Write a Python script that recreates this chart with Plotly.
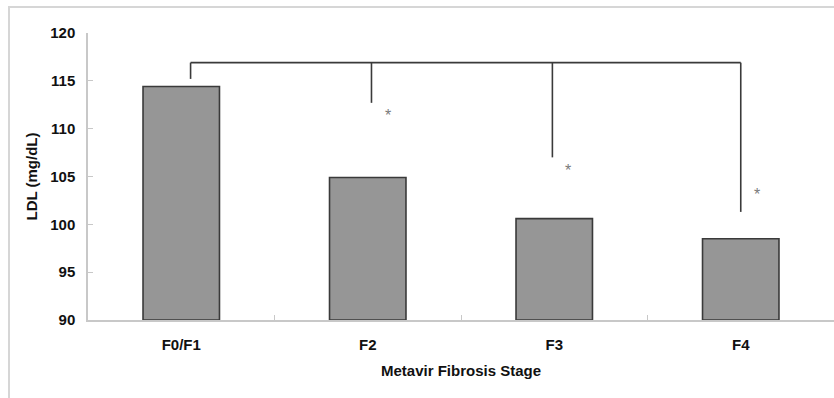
import plotly.graph_objects as go

# Mean LDL by Metavir fibrosis stage
stages = ["F0/F1", "F2", "F3", "F4"]
ldl_mean = [114.4, 104.9, 100.6, 98.5]

# Significance bracket: common top bar and drop ends for each stage
bracket_top = 116.9
bracket_x = [0.05, 1.02, 1.99, 3.0]
bracket_drop_end = [115.2, 112.7, 107.0, 101.3]

# Asterisks marking stages different from F0/F1
star_x = [1.107, 2.074, 3.087]
star_y = [111.6, 105.8, 103.3]

FONT = "Liberation Sans, Arial, sans-serif"
AXIS_GREY = "#c8c8c8"
LINE_DARK = "#3a3a3a"

fig = go.Figure()
fig.add_trace(go.Bar(
    x=stages,
    y=[v - 90 for v in ldl_mean],
    base=90,
    marker=dict(color="#969696", line=dict(color=LINE_DARK, width=1.6)),
    width=0.41,
    hoverinfo="skip",
))

shapes = []
# horizontal bar of the bracket
shapes.append(dict(type="line", xref="x", yref="y",
                   x0=bracket_x[0], x1=bracket_x[-1], y0=bracket_top, y1=bracket_top,
                   line=dict(color=LINE_DARK, width=1.6)))
for bx, by in zip(bracket_x, bracket_drop_end):
    shapes.append(dict(type="line", xref="x", yref="y",
                       x0=bx, x1=bx, y0=bracket_top, y1=by,
                       line=dict(color=LINE_DARK, width=1.6)))
# outer frame around the figure
shapes.append(dict(type="rect", xref="paper", yref="paper",
                   x0=-0.1059, x1=1.05, y0=-0.35, y1=1.0906,
                   line=dict(color="#d6d6d6", width=2), layer="below"))

annotations = []
for sx, sy in zip(star_x, star_y):
    annotations.append(dict(x=sx, y=sy, xref="x", yref="y", text="*",
                            showarrow=False, yshift=-2,
                            font=dict(family=FONT, size=16, color="#7a7a7a")))

fig.update_layout(
    width=834, height=398, autosize=False,
    margin=dict(l=88, r=0, t=33, b=78),
    paper_bgcolor="white", plot_bgcolor="white",
    showlegend=False,
    shapes=shapes,
    annotations=annotations,
    font=dict(family=FONT, color="#111111"),
)
fig.update_xaxes(
    type="category", range=[-0.5, 3.5],
    showline=True, linecolor=AXIS_GREY, linewidth=1.5,
    ticks="inside", tickson="boundaries", ticklen=5, tickcolor=AXIS_GREY,
    showgrid=False, zeroline=False,
    tickfont=dict(family=FONT, size=15, weight="bold", color="#111111"),
    ticklabelstandoff=10,
    title=dict(text="Metavir Fibrosis Stage", standoff=14,
               font=dict(family=FONT, size=15, weight="bold", color="#111111")),
)
fig.update_yaxes(
    range=[90, 120], dtick=5, tick0=90,
    showline=True, linecolor=AXIS_GREY, linewidth=1.5,
    ticks="inside", ticklen=5, tickcolor=AXIS_GREY,
    showgrid=False, zeroline=False,
    tickfont=dict(family=FONT, size=15, weight="bold", color="#111111"),
    ticklabelstandoff=8,
    title=dict(text="LDL (mg/dL)", standoff=9,
               font=dict(family=FONT, size=15, weight="bold", color="#111111")),
)

fig.write_html("out.html")
